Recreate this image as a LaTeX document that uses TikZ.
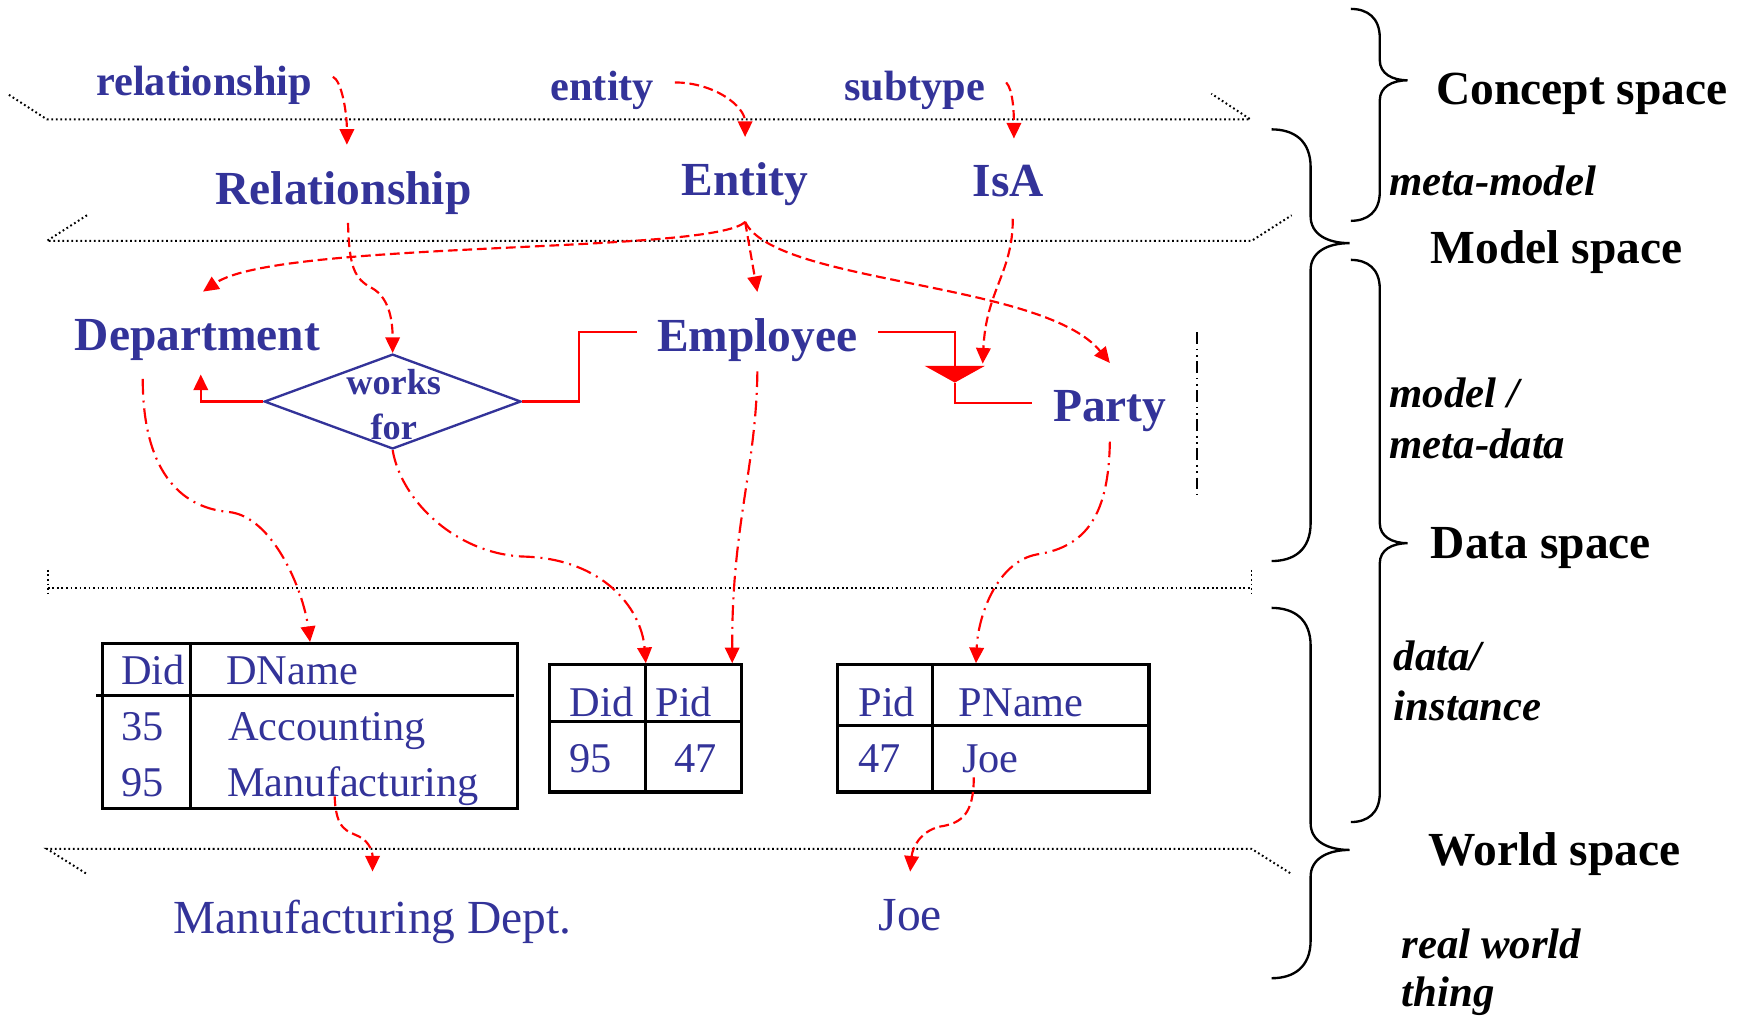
\documentclass[tikz,border=0pt]{standalone}
\usepackage{fontspec}
\setmainfont{Liberation Serif}
\usepackage{tikz}
\usetikzlibrary{arrows.meta,shapes.geometric}
\definecolor{ermblue}{RGB}{51,51,153}

\begin{document}
\begin{tikzpicture}[x=0.01cm,y=-0.01cm]
        % Define styles
        \tikzset{
            concept/.style={text=ermblue, font=\fontsize{10.8}{13}\selectfont\bfseries, inner sep=0pt, anchor=base},
            model/.style={text=ermblue, font=\fontsize{12.1}{14}\selectfont\bfseries, inner sep=0pt, anchor=base},
            relbox/.style={diamond, draw=ermblue, line width=0.6pt, minimum width=2.3cm, minimum height=0.85cm, inner sep=0pt},
            tabbox/.style={draw, line width=0.8pt, inner sep=0pt},
            tabline/.style={line width=0.8pt},
            cell/.style={text=ermblue, font=\fontsize{10.8}{13}\selectfont, inner sep=0pt, anchor=base west},
            thing/.style={text=ermblue, font=\fontsize{12.1}{14}\selectfont, inner sep=0pt, anchor=base},
            spacename/.style={font=\fontsize{12.1}{14}\selectfont\bfseries, inner sep=0pt, anchor=base west},
            layer/.style={font=\fontsize{10.9}{13}\selectfont\bfseries\itshape, inner sep=0pt, anchor=base west},
            plane/.style={line width=0.5pt, dash pattern=on 0.45pt off 0.7pt},
            brace/.style={line width=0.6pt},
            link/.style={red, line width=0.55pt},
            metaarrow/.style={red, line width=0.55pt, dash pattern=on 2.5pt off 1.2pt, -{Triangle[length=1.4mm,width=1.3mm]}},
            instarrow/.style={red, line width=0.55pt, dash pattern=on 4pt off 1.5pt on 0.5pt off 1.5pt, -{Triangle[length=1.4mm,width=1.3mm]}}
        }
        \useasboundingbox (0,0) rectangle (1568,910);

        % Planes
        \draw[plane] (8,85) -- (42,107) -- (1121,107) -- (1086,84);
        \draw[plane] (78,193) -- (42,216) -- (1122,216) -- (1158,193);
        \draw[plane] (43,511) -- (43,535);
        \draw[plane] (43,527) -- (1122,527);
        \draw[plane] (1122,511) -- (1122,535);
        \draw[plane] (77,783) -- (42,761) -- (1122,761) -- (1157,783);

        % Braces
        \draw[brace] (1211,8) .. controls (1226,8) and (1237,16) .. (1237,34) -- (1237,54) .. controls (1237,66) and (1248,72) .. (1262,72) .. controls (1248,72) and (1237,78) .. (1237,90) -- (1237,172) .. controls (1237,190) and (1226,198) .. (1211,198);
        \draw[brace] (1140,116) .. controls (1160,116) and (1175,126) .. (1175,150) -- (1175,194) .. controls (1175,210) and (1190,218) .. (1210,218) .. controls (1190,218) and (1175,226) .. (1175,242) -- (1175,469) .. controls (1175,493) and (1160,503) .. (1140,503);
        \draw[brace] (1211,233) .. controls (1226,233) and (1237,241) .. (1237,259) -- (1237,469) .. controls (1237,481) and (1248,487) .. (1262,487) .. controls (1248,487) and (1237,493) .. (1237,505) -- (1237,711) .. controls (1237,729) and (1226,737) .. (1211,737);
        \draw[brace] (1140,545) .. controls (1160,545) and (1175,555) .. (1175,579) -- (1175,738) .. controls (1175,754) and (1190,762) .. (1210,762) .. controls (1190,762) and (1175,770) .. (1175,786) -- (1175,843) .. controls (1175,867) and (1160,877) .. (1140,877);

        % Space names
        \node[spacename] (sconcept) at (1287,94) {Concept space};
        \node[layer] (lmetamodel) at (1245,175) {meta-model};
        \node[spacename] (smodel) at (1282,236) {Model space};
        \node[layer] (lmodel) at (1245,365) {model /};
        \node[layer] (lmetadata) at (1245,411) {meta-data};
        \node[spacename] (sdata) at (1282,501) {Data space};
        \node[layer] (ldata) at (1249,601) {data/};
        \node[layer] (linstance) at (1249,646) {instance};
        \node[spacename] (sworld) at (1280,776) {World space};
        \node[layer] (lreal) at (1256,859) {real world};
        \node[layer] (lthing) at (1256,902) {thing};

        % Concepts
        \node[concept] (relc) at (183,86) {relationship};
        \node[concept] (entc) at (540,90) {entity};
        \node[concept] (subc) at (820,90) {subtype};

        % Model
        \node[model] (rel) at (308,183) {Relationship};
        \node[model] (ent) at (668,175) {Entity};
        \node[model] (isa) at (904,176) {IsA};

        % Data model
        \node[model] (dept) at (177,314) {Department};
        \node[model] (emp) at (679,315) {Employee};
        \node[model] (party) at (995,378) {Party};
        \node[relbox] (works) at (352,360) {};
        \node[text=ermblue, font=\fontsize{9.25}{11.5}\selectfont\bfseries, align=center, inner sep=0pt] (worksfor) at (353,363) {works\\for};
        \coordinate (isabase) at (856,328);
        \coordinate (isaapex) at (856,343);
        \draw[line width=0.6pt, dash pattern=on 3pt off 1.2pt on 0.4pt off 1.2pt on 0.4pt off 1.2pt] (1073,298) -- (1073,443);

        % Tables
        \node[tabbox, minimum width=3.72cm, minimum height=1.48cm] (dtab) at (278,651) {};
        \node[tabbox, minimum width=1.72cm, minimum height=1.14cm] (wtab) at (579,653) {};
        \node[tabbox, minimum width=2.79cm, minimum height=1.14cm] (ptab) at (890.5,653) {};
        \draw[tabline] ([xshift=8mm]dtab.north west) -- ([xshift=8mm]dtab.south west);
        \draw[tabline] ([xshift=-0.4mm,yshift=-4.8mm]dtab.north west) -- ([xshift=-0.5mm,yshift=-4.8mm]dtab.north east);
        \draw[tabline] (wtab.north) -- (wtab.south);
        \draw[tabline] ([yshift=-5.2mm]wtab.north west) -- ([yshift=-5.2mm]wtab.north east);
        \draw[tabline] ([xshift=8.65mm]ptab.north west) -- ([xshift=8.65mm]ptab.south west);
        \draw[tabline] ([yshift=-5.6mm]ptab.north west) -- ([yshift=-5.6mm]ptab.north east);

        \node[cell] (t1did) at (108,614) {Did};
        \node[cell] (t1name) at (202,614) {DName};
        \node[cell] (t1a) at (108,664) {35};
        \node[cell] (t1acc) at (204,664) {Accounting};
        \node[cell] (t1b) at (108,714) {95};
        \node[cell] (t1mfg) at (203,714) {Manufacturing};
        \node[cell] (t2did) at (510,642) {Did};
        \node[cell] (t2pid) at (587,642) {Pid};
        \node[cell] (t2a) at (510,693) {95};
        \node[cell] (t2b) at (604,693) {47};
        \node[cell] (t3pid) at (769,642) {Pid};
        \node[cell] (t3name) at (859,642) {PName};
        \node[cell] (t3a) at (769,693) {47};
        \node[cell] (t3joe) at (862,693) {Joe};

        % World
        \node[thing] (wmfg) at (334,837) {Manufacturing Dept.};
        \node[thing] (wjoe) at (816,834) {Joe};

        % Concept to model
        \draw[metaarrow] ([xshift=1.8mm,yshift=0.8mm]relc.east) .. controls (306,72) and (311,100) .. ([xshift=0.3mm,yshift=2.3mm]rel.north);
        \draw[metaarrow] ([xshift=1.8mm,yshift=0.7mm]entc.east) .. controls (640,74) and (668,95) .. ([yshift=2.2mm]ent.north);
        \draw[metaarrow] ([xshift=1.8mm,yshift=0.7mm]subc.east) .. controls (908,80) and (909,100) .. ([xshift=0.5mm,yshift=2.3mm]isa.north);

        % Model to data
        \draw[metaarrow] ([yshift=-1.4mm]ent.south) .. controls (640,228) and (250,215) .. ([xshift=0.5mm,yshift=2.4mm]dept.north);
        \draw[metaarrow] ([yshift=-1.4mm]ent.south) -- ([yshift=2.3mm]emp.north);
        \draw[metaarrow] ([yshift=-1.4mm]ent.south) .. controls (695,255) and (935,252) .. ([yshift=2.4mm]party.north);
        \draw[metaarrow] ([xshift=0.4mm,yshift=-0.7mm]rel.south) .. controls (313,240) and (318,250) .. (333,258) .. controls (348,266) and (352,285) .. (works.north);
        \draw[metaarrow] ([xshift=0.4mm,yshift=-1.9mm]isa.south) .. controls (908,245) and (884,260) .. ([xshift=2.5mm,yshift=0.2mm]isabase);

        % ER links
        \draw[link, -{Triangle[length=1.4mm,width=1.3mm]}] (works.west) -| ([xshift=0.3mm,yshift=-1.2mm]dept.south);
        \draw[link] (works.east) -- ++(51,0) |- ([xshift=-1.7mm,yshift=0.7mm]emp.west);
        \draw[link] ([xshift=1.8mm,yshift=0.7mm]emp.east) -| (isabase);
        \draw[link] (isaapex) |- ([xshift=-1.8mm,yshift=0.7mm]party.west);
        \fill[red] ([xshift=-2.7mm]isabase) -- ([xshift=2.7mm]isabase) -- (isaapex) -- cycle;

        % Data to instances
        \draw[instarrow] ([xshift=-4.9mm,yshift=-1.6mm]dept.south) .. controls (128,420) and (160,455) .. (205,459) .. controls (245,463) and (272,530) .. (dtab.north);
        \draw[instarrow] (works.south) .. controls (360,450) and (410,497) .. (470,499) .. controls (540,501) and (575,545) .. (wtab.north);
        \draw[instarrow] ([yshift=-0.8mm]emp.south) .. controls (678,420) and (656,470) .. ([xshift=-1mm]wtab.north east);
        \draw[instarrow] ([yshift=-0.8mm]party.south) .. controls (994,460) and (975,490) .. (930,497) .. controls (895,503) and (877,550) .. ([xshift=-1.55mm]ptab.north);

        % Instances to world
        \draw[metaarrow] ([xshift=9.7mm]t1mfg.base west) .. controls (301,745) and (312,745) .. (322,750) .. controls (332,755) and (334,765) .. ([yshift=2.5mm]wmfg.north);
        \draw[metaarrow] ([xshift=1.1mm,yshift=-0.4mm]t3joe.base west) .. controls (873,730) and (862,738) .. (843,741) .. controls (825,745) and (818,760) .. ([yshift=2.4mm]wjoe.north);
\end{tikzpicture}
\end{document}
